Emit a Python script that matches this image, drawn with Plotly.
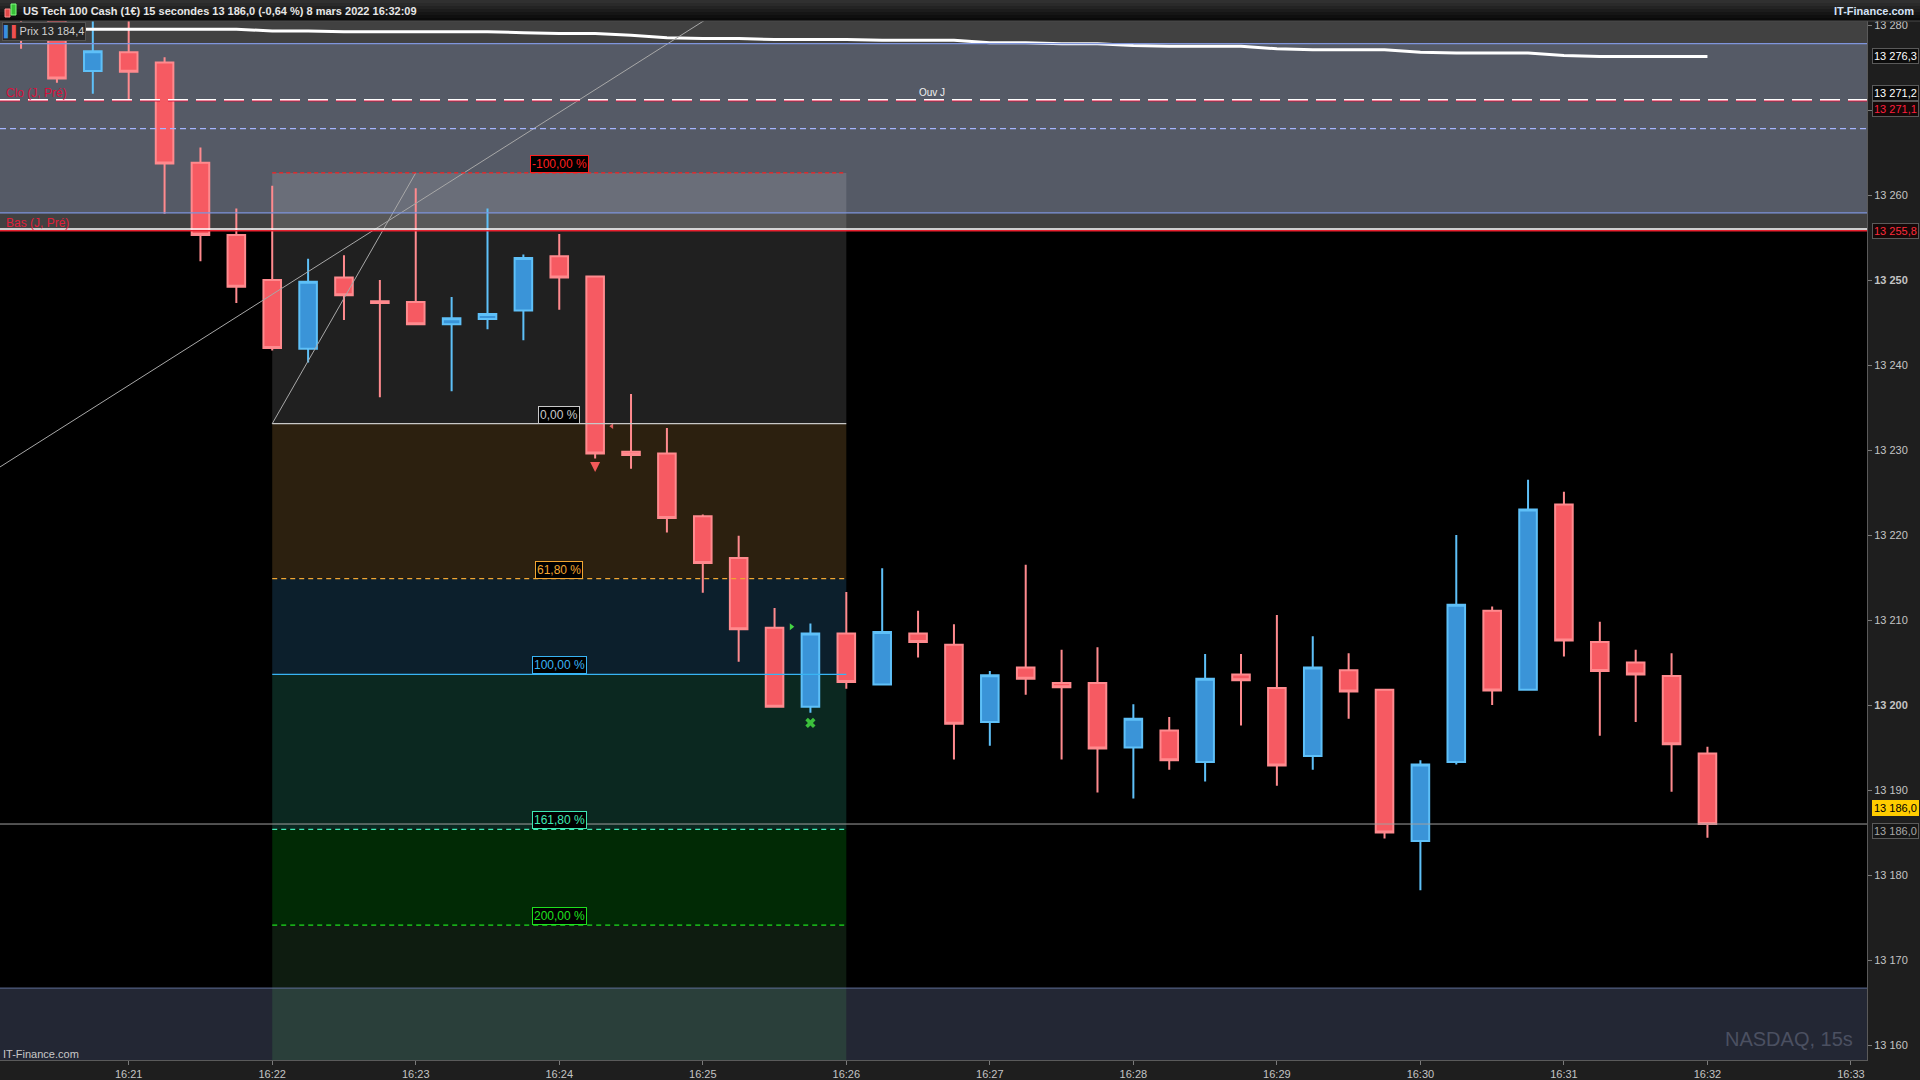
import plotly.graph_objects as go

# ---------------- data ----------------
times = [
    "2022-03-08 16:20:15", "2022-03-08 16:20:30", "2022-03-08 16:20:45",
    "2022-03-08 16:21:00", "2022-03-08 16:21:15", "2022-03-08 16:21:30", "2022-03-08 16:21:45",
    "2022-03-08 16:22:00", "2022-03-08 16:22:15", "2022-03-08 16:22:30", "2022-03-08 16:22:45",
    "2022-03-08 16:23:00", "2022-03-08 16:23:15", "2022-03-08 16:23:30", "2022-03-08 16:23:45",
    "2022-03-08 16:24:00", "2022-03-08 16:24:15", "2022-03-08 16:24:30", "2022-03-08 16:24:45",
    "2022-03-08 16:25:00", "2022-03-08 16:25:15", "2022-03-08 16:25:30", "2022-03-08 16:25:45",
    "2022-03-08 16:26:00", "2022-03-08 16:26:15", "2022-03-08 16:26:30", "2022-03-08 16:26:45",
    "2022-03-08 16:27:00", "2022-03-08 16:27:15", "2022-03-08 16:27:30", "2022-03-08 16:27:45",
    "2022-03-08 16:28:00", "2022-03-08 16:28:15", "2022-03-08 16:28:30", "2022-03-08 16:28:45",
    "2022-03-08 16:29:00", "2022-03-08 16:29:15", "2022-03-08 16:29:30", "2022-03-08 16:29:45",
    "2022-03-08 16:30:00", "2022-03-08 16:30:15", "2022-03-08 16:30:30", "2022-03-08 16:30:45",
    "2022-03-08 16:31:00", "2022-03-08 16:31:15", "2022-03-08 16:31:30", "2022-03-08 16:31:45",
    "2022-03-08 16:32:00",
]
opens = [13285.0, 13281.5, 13274.6, 13276.8, 13275.6, 13263.8, 13255.3,
         13250.0, 13241.9, 13250.3, 13247.5, 13247.4, 13244.8, 13245.4, 13246.4,
         13252.8, 13250.4, 13229.8, 13229.6, 13222.2, 13217.3, 13209.1, 13199.8,
         13208.4, 13202.4, 13208.4, 13207.1, 13198.0, 13204.4, 13202.6, 13202.6,
         13195.0, 13197.0, 13193.3, 13203.6, 13202.0, 13194.0, 13204.1, 13201.8,
         13184.0, 13193.3, 13211.1, 13201.8, 13223.6, 13207.4, 13205.0, 13203.4,
         13194.3]
highs = [13287.0, 13282.5, 13282.0, 13282.0, 13276.2, 13265.6, 13258.4,
         13261.1, 13252.5, 13252.9, 13250.0, 13260.8, 13248.0, 13258.4, 13253.0,
         13255.4, 13250.5, 13236.6, 13232.6, 13222.4, 13219.9, 13211.4, 13209.6,
         13213.3, 13216.1, 13211.1, 13209.5, 13204.0, 13216.5, 13206.5, 13206.8,
         13200.1, 13198.6, 13206.0, 13206.0, 13210.6, 13208.1, 13206.1, 13201.9,
         13193.5, 13220.0, 13211.6, 13226.5, 13225.1, 13209.8, 13206.5, 13206.1,
         13195.1]
lows = [13277.2, 13273.2, 13271.9, 13271.2, 13257.8, 13252.2, 13247.3,
        13241.7, 13240.3, 13245.3, 13236.2, 13244.7, 13236.9, 13244.2, 13242.9,
        13246.5, 13229.0, 13227.8, 13220.3, 13213.2, 13205.1, 13199.7, 13199.1,
        13201.9, 13202.3, 13205.6, 13193.6, 13195.2, 13201.2, 13193.6, 13189.7,
        13189.0, 13192.4, 13191.0, 13197.6, 13190.5, 13192.4, 13198.4, 13184.3,
        13178.2, 13193.0, 13200.0, 13201.7, 13205.7, 13196.4, 13198.0, 13189.8,
        13184.4]
closes = [13281.0, 13273.7, 13276.9, 13274.5, 13263.7, 13255.3, 13249.2,
          13242.0, 13249.8, 13248.2, 13247.3, 13244.8, 13245.5, 13246.0, 13252.6,
          13250.3, 13229.6, 13229.4, 13222.0, 13216.7, 13208.9, 13199.8, 13208.4,
          13202.7, 13208.6, 13207.4, 13197.8, 13203.5, 13203.1, 13202.1, 13194.9,
          13198.4, 13193.5, 13203.1, 13202.9, 13192.9, 13204.4, 13201.6, 13185.0,
          13193.0, 13211.8, 13201.7, 13223.0, 13207.6, 13204.0, 13203.6, 13195.4,
          13186.0]
ma_values = [13279.5, 13279.5, 13279.5, 13279.5, 13279.5, 13279.5, 13279.5,
             13279.3, 13279.3, 13279.2, 13279.2, 13279.2, 13279.2, 13279.2,
             13279.1, 13279.0, 13279.0, 13278.8,
             13278.5, 13278.4, 13278.4, 13278.3, 13278.3, 13278.3, 13278.2, 13278.2, 13278.2,
             13277.9, 13277.9, 13277.8, 13277.8,
             13277.6, 13277.5, 13277.5, 13277.5,
             13277.2, 13277.1, 13277.1, 13277.1,
             13276.8, 13276.7, 13276.7, 13276.7,
             13276.4, 13276.3, 13276.3, 13276.3, 13276.3]

# reference levels
last_price = 13186.0
ma_last = 13276.3
open_day = 13271.2          # Ouv J
prev_close = 13271.1        # Clo (J. Pré)
prev_low = 13255.8          # Bas (J. Pré)
day_low_line = 13256.0
zone_top = 13277.8
zone_bottom = 13257.9
dashed_level = 13267.8
bottom_band = 13166.7

# fibonacci drawing
fib_start = "2022-03-08 16:22:00"
fib_end = "2022-03-08 16:26:00"
fib_label_time = "2022-03-08 16:24:00"
fib_anchor_time = "2022-03-08 16:23:00"
fib_zero = 13233.1
fib_hundred = 13203.6
fib_levels = [-1.0, 0.0, 0.618, 1.0, 1.618, 2.0]
fib_labels = ["-100,00 %", "0,00 %", "61,80 %", "100,00 %", "161,80 %", "200,00 %"]
fib_colors = ["#ff1e1e", "#c8c8c8", "#f2a632", "#38b4f4", "#3fe8b4", "#1ee01e"]
fib_dash = ["4px,3px", "solid", "5px,4px", "solid", "5px,4px", "5px,4px"]
fib_fills = ["rgba(255,255,255,0.125)", "#2c200f", "#0c1f2c", "#0b2820", "#012a05", "#0e1c10"]

# long trend line
trend_x = ["2022-03-08 16:20:00", "2022-03-08 16:25:10"]
trend_y = [13226.9, 13282.2]

# signals
sell_x = ["2022-03-08 16:24:15"]
sell_y = [13227.4]
tri_x = ["2022-03-08 16:25:37"]
tri_y = [13209.2]
cross_x = ["2022-03-08 16:25:45"]
cross_y = [13197.9]
small_x = ["2022-03-08 16:24:22"]
small_y = [13232.8]

x_range = ["2022-03-08 16:20:06.2", "2022-03-08 16:33:06.7"]
y_range = [13158.24, 13280.47]
ytick_vals = [13160, 13170, 13180, 13190, 13200, 13210, 13220, 13230, 13240, 13250, 13260, 13270, 13280]
ytick_text = ["13 160", "13 170", "13 180", "13 190", "<b>13 200</b>", "13 210", "13 220", "13 230",
              "13 240", "<b>13 250</b>", "13 260", "", "13 280"]

FONT = "Liberation Sans, Arial, sans-serif"

fib_prices = [fib_zero - lv * (fib_zero - fib_hundred) for lv in fib_levels]

# ---------------- figure ----------------
fig = go.Figure()

fig.add_trace(go.Candlestick(
    x=times, open=opens, high=highs, low=lows, close=closes,
    increasing=dict(line=dict(color="#5ec0f8", width=2), fillcolor="#3a94d8"),
    decreasing=dict(line=dict(color="#ff8a8e", width=2), fillcolor="#f65a62"),
    whiskerwidth=0, hoverinfo="skip", showlegend=False))

fig.add_trace(go.Scatter(x=times, y=ma_values, mode="lines",
                         line=dict(color="#ffffff", width=3), hoverinfo="skip"))

fig.add_trace(go.Scatter(x=trend_x, y=trend_y, mode="lines",
                         line=dict(color="#a8a8a8", width=1), hoverinfo="skip"))
fig.add_trace(go.Scatter(x=[fib_start, fib_anchor_time], y=[fib_prices[1], fib_prices[0]], mode="lines",
                         line=dict(color="#a8a8a8", width=1), hoverinfo="skip"))

fig.add_trace(go.Scatter(x=sell_x, y=sell_y, mode="markers",
                         marker=dict(symbol="arrow-down", size=10, color="#f25a5a"), hoverinfo="skip"))
fig.add_trace(go.Scatter(x=tri_x, y=tri_y, mode="markers",
                         marker=dict(symbol="triangle-right", size=6, color="#44d444"), hoverinfo="skip"))
fig.add_trace(go.Scatter(x=cross_x, y=cross_y, mode="markers",
                         marker=dict(symbol="x", size=9, color="#3cc03c"), hoverinfo="skip"))
fig.add_trace(go.Scatter(x=small_x, y=small_y, mode="markers",
                         marker=dict(symbol="triangle-left", size=5, color="#e06060"), hoverinfo="skip"))

shapes = []
# background zones
shapes.append(dict(type="rect", xref="paper", yref="y", x0=0, x1=1, y0=prev_low, y1=13300,
                   fillcolor="#414141", line_width=0, layer="below"))
shapes.append(dict(type="rect", xref="paper", yref="y", x0=0, x1=1, y0=zone_bottom, y1=zone_top,
                   fillcolor="#555a66", line_width=0, layer="below"))
shapes.append(dict(type="rect", xref="paper", yref="y", x0=0, x1=1, y0=13100, y1=bottom_band,
                   fillcolor="#232734", line_width=0, layer="below"))
# fib zones
bounds = fib_prices + [bottom_band]
for i in range(len(fib_fills)):
    shapes.append(dict(type="rect", xref="x", yref="y", x0=fib_start, x1=fib_end,
                       y0=bounds[i + 1], y1=bounds[i], fillcolor=fib_fills[i], line_width=0, layer="below"))
shapes.append(dict(type="rect", xref="x", yref="y", x0=fib_start, x1=fib_end,
                   y0=13100, y1=bottom_band, fillcolor="#2a3f3a", line_width=0, layer="below"))

# horizontal lines
def hline(y, color, width=1, dash="solid", layer="above"):
    shapes.append(dict(type="line", xref="paper", yref="y", x0=0, x1=1, y0=y, y1=y,
                       line=dict(color=color, width=width, dash=dash), layer=layer))

hline(zone_top, "#7f95dc", 1.2)
hline(zone_bottom, "#7f95dc", 1.2)
hline(dashed_level, "#a4b4ff", 1.2, "6px,4px")
hline(prev_close, "#e0103a", 1.5, "20px,8px")
hline(open_day, "#ffffff", 1.5, "20px,8px")
hline(day_low_line, "#ffffff", 1.5)
hline(prev_low, "#e8202e", 1.5)
hline(bottom_band, "#5d6d96", 1)
hline(last_price, "#a0a0a0", 1)

for i, p in enumerate(fib_prices):
    shapes.append(dict(type="line", xref="x", yref="y", x0=fib_start, x1=fib_end, y0=p, y1=p,
                       line=dict(color=fib_colors[i], width=1.3 if i in (1, 3) else 1.2,
                                 dash=fib_dash[i]), layer="above"))

# header bar (gradient strips)
ph = 1039.0
pw = 1867.0
hdr_cols = ["#303030", "#2a2a2a", "#232323", "#1c1c1c", "#151515", "#0f0f0f", "#0a0a0a"]
for k, c in enumerate(hdr_cols):
    shapes.append(dict(type="rect", xref="paper", yref="paper", x0=0, x1=1920 / pw,
                       y0=1 + (21 - 3 * (k + 1)) / ph, y1=1 + (21 - 3 * k) / ph,
                       fillcolor=c, line_width=0, layer="above"))
shapes.append(dict(type="line", xref="paper", yref="paper", x0=0, x1=1920 / pw, y0=1, y1=1,
                   line=dict(color="#4a4a4a", width=1), layer="above"))
# header icon
shapes.append(dict(type="rect", xref="paper", yref="paper", x0=5 / pw, x1=10 / pw,
                   y0=1 + 4 / ph, y1=1 + 12 / ph, fillcolor="#e04848", line=dict(color="#ff9090", width=1), layer="above"))
shapes.append(dict(type="rect", xref="paper", yref="paper", x0=11 / pw, x1=16 / pw,
                   y0=1 + 6 / ph, y1=1 + 17 / ph, fillcolor="#38c038", line=dict(color="#80ff80", width=1), layer="above"))

annotations = []
annotations.append(dict(xref="paper", yref="paper", x=0, y=1, xanchor="left", yanchor="middle",
                        xshift=21, yshift=10.5, showarrow=False,
                        text="<b>US Tech 100 Cash (1€) 15 secondes 13 186,0 (-0,64 %) 8 mars 2022 16:32:09</b>",
                        font=dict(family=FONT, size=11, color="#e6e6e6")))
annotations.append(dict(xref="paper", yref="paper", x=1920 / pw, y=1, xanchor="right", yanchor="middle",
                        xshift=-4, yshift=10.5, showarrow=False,
                        text="<b>IT-Finance.com</b>", font=dict(family=FONT, size=11, color="#d4e2f6")))
annotations.append(dict(xref="paper", yref="paper", x=0, y=1, xanchor="left", yanchor="top",
                        xshift=2, yshift=-1, showarrow=False,
                        text='<span style="color:#3a8ee0">▌</span><span style="color:#f05050">▌</span>Prix 13 184,4',
                        font=dict(family=FONT, size=11, color="#d0d0d0"),
                        bgcolor="#262626", bordercolor="#555555", borderwidth=1, borderpad=1))
annotations.append(dict(xref="paper", yref="y", x=0, y=prev_close, xanchor="left", yanchor="bottom",
                        xshift=4, yshift=-1, showarrow=False, text="Clo (J, Pré)",
                        font=dict(family=FONT, size=12, color="#d8103c")))
annotations.append(dict(xref="paper", yref="y", x=0, y=prev_low, xanchor="left", yanchor="bottom",
                        xshift=4, yshift=-1, showarrow=False, text="Bas (J, Pré)",
                        font=dict(family=FONT, size=12, color="#e0203a")))
annotations.append(dict(xref="x", yref="y", x="2022-03-08 16:26:36", y=open_day, xanchor="center",
                        yanchor="bottom", showarrow=False, text="Ouv J",
                        font=dict(family=FONT, size=10, color="#f0f0f0")))
annotations.append(dict(xref="paper", yref="paper", x=1, y=0, xanchor="right", yanchor="bottom",
                        xshift=-12, yshift=8, showarrow=False, text="NASDAQ, 15s",
                        font=dict(family=FONT, size=20, color="#4b5061")))
annotations.append(dict(xref="paper", yref="paper", x=0, y=0, xanchor="left", yanchor="bottom",
                        xshift=1, yshift=-2, showarrow=False, text="IT-Finance.com",
                        font=dict(family=FONT, size=11, color="#c8c8c8")))

for i, p in enumerate(fib_prices):
    annotations.append(dict(xref="x", yref="y", x=fib_label_time, y=p, xanchor="center", yanchor="bottom",
                            showarrow=False, text=fib_labels[i],
                            font=dict(family=FONT, size=12, color=fib_colors[i]),
                            bgcolor="#000000", bordercolor=fib_colors[i], borderwidth=1, borderpad=1))

# right-axis value tags
def tag(y, text, color, bg, border, yshift=0):
    annotations.append(dict(xref="paper", yref="y", x=1, y=y, xanchor="left", yanchor="middle",
                            xshift=5, yshift=yshift, showarrow=False, text=text,
                            font=dict(family=FONT, size=11, color=color),
                            bgcolor=bg, bordercolor=border, borderwidth=1, borderpad=1))

tag(ma_last, "13 276,3", "#ffffff", "#0c0c0c", "#5a5a5a")
tag(open_day, "13 271,2", "#ffffff", "#0c0c0c", "#5a5a5a", 7)
tag(prev_close, "13 271,1", "#ff1e3c", "#160808", "#5a5a5a", -8)
tag(prev_low, "13 255,8", "#ff2a3a", "#160808", "#5a5a5a")
tag(last_price, "13 186,0", "#000000", "#ffcc00", "#ffcc00", 16)
tag(last_price, "13 186,0", "#a8a8a8", "#161616", "#5a5a5a", -7)

fig.update_layout(
    width=1920, height=1080,
    margin=dict(l=0, r=53, t=21, b=20, pad=0),
    paper_bgcolor="#1e1e1e", plot_bgcolor="#000000",
    showlegend=False, shapes=shapes, annotations=annotations,
    xaxis=dict(type="date", range=x_range, rangeslider=dict(visible=False), showgrid=False, zeroline=False,
               tickformat="%H:%M", dtick=60000, tick0="2022-03-08 16:00:00", ticks="outside", ticklen=4,
               tickcolor="#7a7a7a", tickfont=dict(family=FONT, size=11, color="#c4c4c4"),
               showline=True, linecolor="#5a5a5a", linewidth=1, fixedrange=True),
    yaxis=dict(side="right", range=y_range, tickvals=ytick_vals, ticktext=ytick_text, ticks="outside",
               ticklen=4, tickcolor="#7a7a7a", tickfont=dict(family=FONT, size=11, color="#c4c4c4"),
               showgrid=False, zeroline=False, showline=True, linecolor="#5a5a5a", linewidth=1,
               fixedrange=True),
)

fig.write_html("out.html", config={"displayModeBar": False},
               post_script="document.body.style.margin='0';document.body.style.overflow='hidden';")
